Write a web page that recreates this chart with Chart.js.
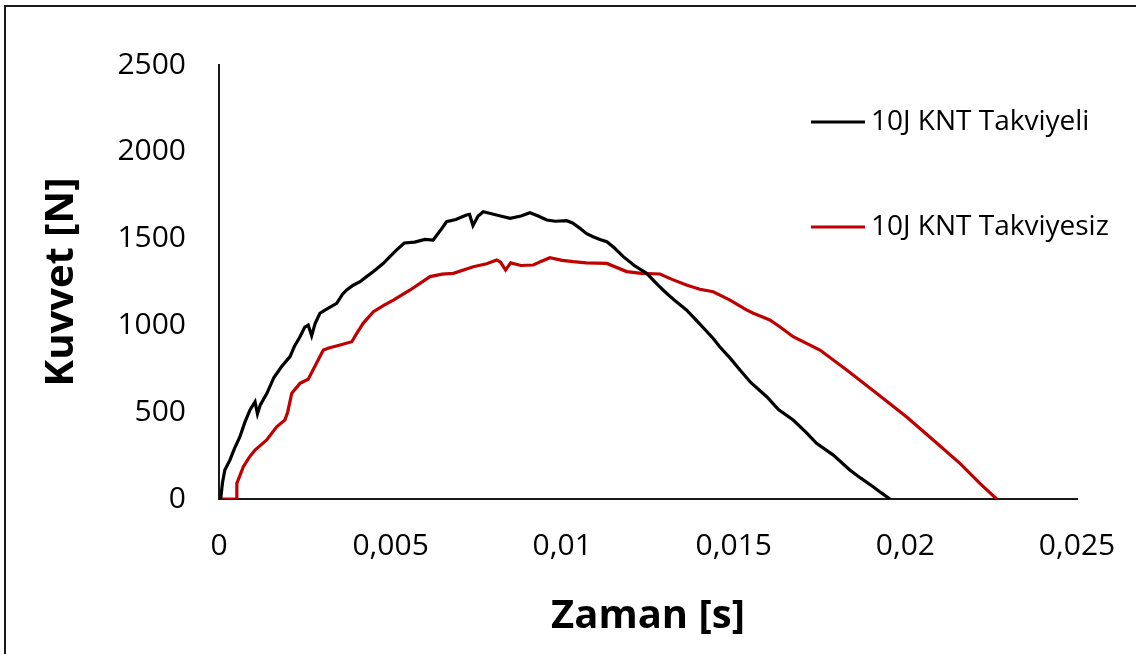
<!DOCTYPE html>
<html><head><meta charset="utf-8">
<script src="https://cdn.jsdelivr.net/npm/chart.js@4.4.1/dist/chart.umd.min.js"></script>
<style>
html,body{margin:0;padding:0;background:#fff;overflow:hidden;}
#wrap{position:relative;width:1136px;height:654px;background:#fff;}
#frame{position:absolute;left:4px;top:5px;width:1200px;height:700px;border:2px solid #1a1a1a;box-sizing:border-box;pointer-events:none;}
canvas{position:absolute;left:0;top:0;}
</style></head><body>
<div id="wrap"><canvas id="c" width="1136" height="654"></canvas><div id="frame"></div></div>
<script>
const xTickLabels = ['0','0,005','0,01','0,015','0,02','0,025'];
const yTickLabels = ['0','500','1000','1500','2000','2500'];
const seriesNames = ['10J KNT Takviyeli','10J KNT Takviyesiz'];
const xAxisTitle = 'Zaman [s]';
const yAxisTitle = 'Kuvvet [N]';

const blackTime = [0.00005,0.0001,0.00017,0.00032,0.00045,0.00061,0.00075,0.0009,0.00105,0.00112,0.0012,0.0014,0.0016,0.00182,0.00207,0.0022,0.00236,0.0025,0.0026,0.0027,0.0028,0.00294,0.0031,0.00343,0.0036,0.00372,0.0039,0.00411,0.0043,0.0045,0.00479,0.005,0.00517,0.0054,0.0057,0.006,0.00624,0.0065,0.00663,0.0069,0.00721,0.0073,0.0074,0.00755,0.0077,0.008,0.0082,0.00848,0.0088,0.00906,0.0093,0.00955,0.0098,0.01013,0.0103,0.01052,0.0107,0.0109,0.0111,0.0113,0.0115,0.01178,0.0121,0.01246,0.0128,0.01304,0.0133,0.01362,0.0140,0.0144,0.01459,0.0149,0.01518,0.0155,0.01596,0.0163,0.01673,0.0171,0.01741,0.0179,0.01838,0.0187,0.01906,0.0193,0.01955];
const blackForce = [0,92,167,225,290,359,440,512,560,490,540,610,700,762,820,880,935,990,1002,940,1010,1070,1090,1127,1180,1204,1230,1252,1281,1310,1358,1400,1434,1475,1480,1495,1492,1560,1597,1610,1636,1640,1575,1630,1655,1640,1630,1617,1630,1649,1630,1607,1600,1603,1590,1559,1530,1511,1495,1482,1450,1396,1345,1300,1230,1185,1140,1089,1010,925,877,810,743,670,589,515,455,385,321,253,167,120,71,35,0];

const redTime = [0,0.0005,0.00052,0.00071,0.00088,0.00105,0.00139,0.00168,0.00192,0.002,0.00212,0.00236,0.0026,0.00284,0.00304,0.0032,0.00353,0.00387,0.004,0.0042,0.0045,0.0048,0.00508,0.00557,0.00615,0.0065,0.00683,0.00741,0.0078,0.00809,0.0082,0.00835,0.0085,0.0088,0.00916,0.0094,0.00964,0.01,0.01032,0.0107,0.0113,0.01188,0.0123,0.01285,0.0132,0.01362,0.01401,0.0144,0.01489,0.01537,0.01557,0.01605,0.01634,0.01673,0.01751,0.01829,0.01916,0.02003,0.02081,0.02159,0.02217,0.02266];
const redForce = [0,0,90,186,240,282,340,416,455,500,609,666,690,782,858,870,887,906,950,1012,1079,1115,1146,1204,1281,1295,1300,1338,1355,1377,1365,1319,1360,1345,1348,1370,1390,1375,1367,1360,1357,1310,1300,1296,1265,1233,1208,1194,1146,1089,1070,1031,992,935,858,743,609,474,340,205,90,0];

const seriesColors = ['#000000','#C00000'];
const legendRows = [122, 227];

function pts(t, f){ return t.map((x,i)=>({x:x, y:f[i]})); }

const inlineLegend = {
  id:'inlineLegend',
  afterDraw(chart){
    const ctx = chart.ctx;
    ctx.save();
    chart.data.datasets.forEach((ds,i)=>{
      const y = legendRows[i];
      ctx.strokeStyle = ds.borderColor;
      ctx.lineWidth = 3;
      ctx.beginPath(); ctx.moveTo(811,y); ctx.lineTo(865,y); ctx.stroke();
      ctx.fillStyle = '#000';
      ctx.font = '28px "Open Sans"';
      ctx.textBaseline = 'middle';
      ctx.textAlign = 'left';
      ctx.fillText(ds.label, 871, y);
    });
    ctx.restore();
  }
};

new Chart(document.getElementById('c'), {
  type:'line',
  data:{ datasets:[
    {label:seriesNames[0], data:pts(blackTime,blackForce), borderColor:seriesColors[0], borderWidth:3.2, pointRadius:0, tension:0, fill:false},
    {label:seriesNames[1], data:pts(redTime,redForce), borderColor:seriesColors[1], borderWidth:3.2, pointRadius:0, tension:0, fill:false}
  ]},
  options:{
    responsive:false, animation:false,
    layout:{padding:{left:0,top:65,right:59,bottom:0}},
    plugins:{legend:{display:false}, tooltip:{enabled:false}},
    scales:{
      x:{type:'linear', min:0, max:0.025,
        grid:{display:false, drawTicks:false},
        border:{display:true, color:'#1a1a1a', width:2},
        ticks:{stepSize:0.005, autoSkip:false, maxRotation:0, padding:29, color:'#000', font:{family:'"Open Sans"', size:30},
          callback:(v,i)=>xTickLabels[i]},
        title:{display:true, text:xAxisTitle, color:'#000', font:{family:'"Open Sans"', size:40, weight:'bold'}, padding:{top:0,bottom:13}},
        afterFit:(s)=>{ s.height = 155; s.paddingLeft = 0; s.paddingRight = 0; }
      },
      y:{type:'linear', min:0, max:2500,
        grid:{display:false, drawTicks:false},
        border:{display:true, color:'#1a1a1a', width:2},
        ticks:{stepSize:500, autoSkip:false, padding:33, color:'#000', font:{family:'"Open Sans"', size:30},
          callback:(v,i)=>yTickLabels[i]},
        title:{display:true, text:yAxisTitle, color:'#000', font:{family:'"Open Sans"', size:40, weight:'bold'}, padding:{top:38,bottom:0}},
        afterFit:(s)=>{ s.width = 219; s.paddingTop = 0; s.paddingBottom = 0; }
      }
    }
  },
  plugins:[inlineLegend]
});
</script>
</body></html>
